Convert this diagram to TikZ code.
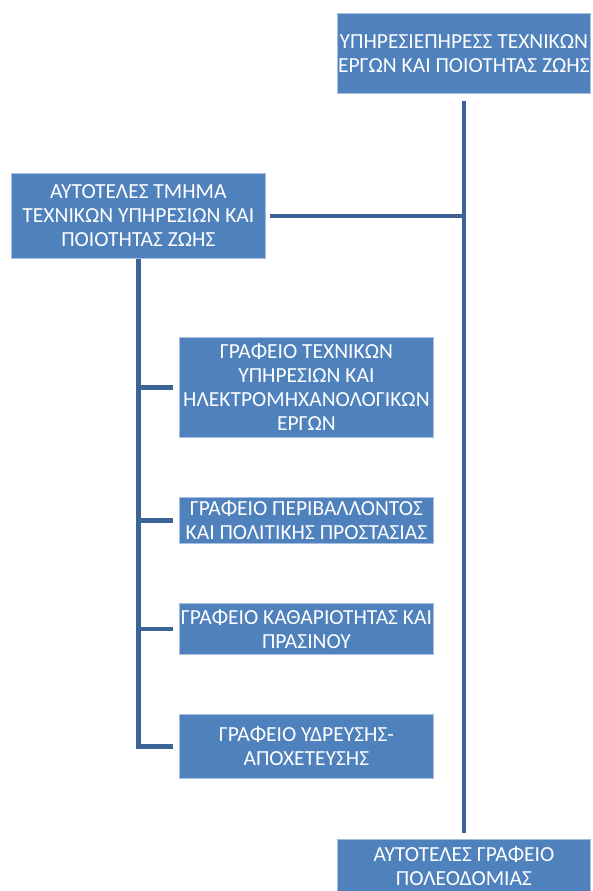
\documentclass[tikz,border=0pt]{standalone}
\usepackage{fontspec}
\setmainfont{Carlito}
\usepackage{xcolor}
\usetikzlibrary{calc,positioning}
\definecolor{boxblue}{HTML}{4F81BD}
\definecolor{boxedge}{HTML}{A7BFDE}
\definecolor{linkblue}{HTML}{3C6496}
\tikzset{
  unit/.style={draw=boxedge, line width=0.8pt, fill=boxblue, text=white,
    align=center, inner sep=0pt, anchor=north west,
    font=\fontsize{21.5}{24}\selectfont},
  link/.style={draw=linkblue, line width=4.5pt}
}

\begin{document}
\begin{tikzpicture}[x=1pt,y=-1pt]
      \useasboundingbox (0,0) rectangle (592,891);
      % Draw the service boxes
      \node[unit, minimum width=253, minimum height=80] (service) at (337,13)
        {ΥΠΗΡΕΣΙΕΠΗΡΕΣΣ ΤΕΧΝΙΚΩΝ\\ΕΡΓΩΝ ΚΑΙ ΠΟΙΟΤΗΤΑΣ ΖΩΗΣ};
      \node[unit, minimum width=254, minimum height=85] (dept) at (11,173)
        {ΑΥΤΟΤΕΛΕΣ ΤΜΗΜΑ\\ΤΕΧΝΙΚΩΝ ΥΠΗΡΕΣΙΩΝ ΚΑΙ\\ΠΟΙΟΤΗΤΑΣ ΖΩΗΣ};
      \node[unit, minimum width=253, minimum height=54] (planning) at (337,839)
        {ΑΥΤΟΤΕΛΕΣ ΓΡΑΦΕΙΟ\\ΠΟΛΕΟΔΟΜΙΑΣ};
      % offices
      \node[unit, minimum width=254, minimum height=100] (techoffice) at (179,337)
        {ΓΡΑΦΕΙΟ ΤΕΧΝΙΚΩΝ\\ΥΠΗΡΕΣΙΩΝ ΚΑΙ\\ΗΛΕΚΤΡΟΜΗΧΑΝΟΛΟΓΙΚΩΝ\\ΕΡΓΩΝ};
      \node[unit, minimum width=254, minimum height=46] (envoffice) at (179,497)
        {ΓΡΑΦΕΙΟ ΠΕΡΙΒΑΛΛΟΝΤΟΣ\\ΚΑΙ ΠΟΛΙΤΙΚΗΣ ΠΡΟΣΤΑΣΙΑΣ};
      \node[unit, minimum width=254, minimum height=51] (cleanoffice) at (179,603)
        {ΓΡΑΦΕΙΟ ΚΑΘΑΡΙΟΤΗΤΑΣ ΚΑΙ\\ΠΡΑΣΙΝΟΥ};
      \node[unit, minimum width=254, minimum height=64] (wateroffice) at (179,714)
        {ΓΡΑΦΕΙΟ ΥΔΡΕΥΣΗΣ-\\ΑΠΟΧΕΤΕΥΣΗΣ};
      % trunk
      \draw[link, shorten <=7pt, shorten >=6pt] (service.south) -- (planning.north);
      \draw[link, shorten <=4pt] (dept.east) -- (dept.east -| service.south);
      % spine of the department
      \draw[link] (dept.south) -- (dept.south |- wateroffice.west)
        -- ([xshift=-6pt]wateroffice.west);
      \foreach \n in {techoffice,envoffice,cleanoffice}
        \draw[link, shorten >=6pt] (dept.south |- \n.west) -- (\n.west);
\end{tikzpicture}
\end{document}
